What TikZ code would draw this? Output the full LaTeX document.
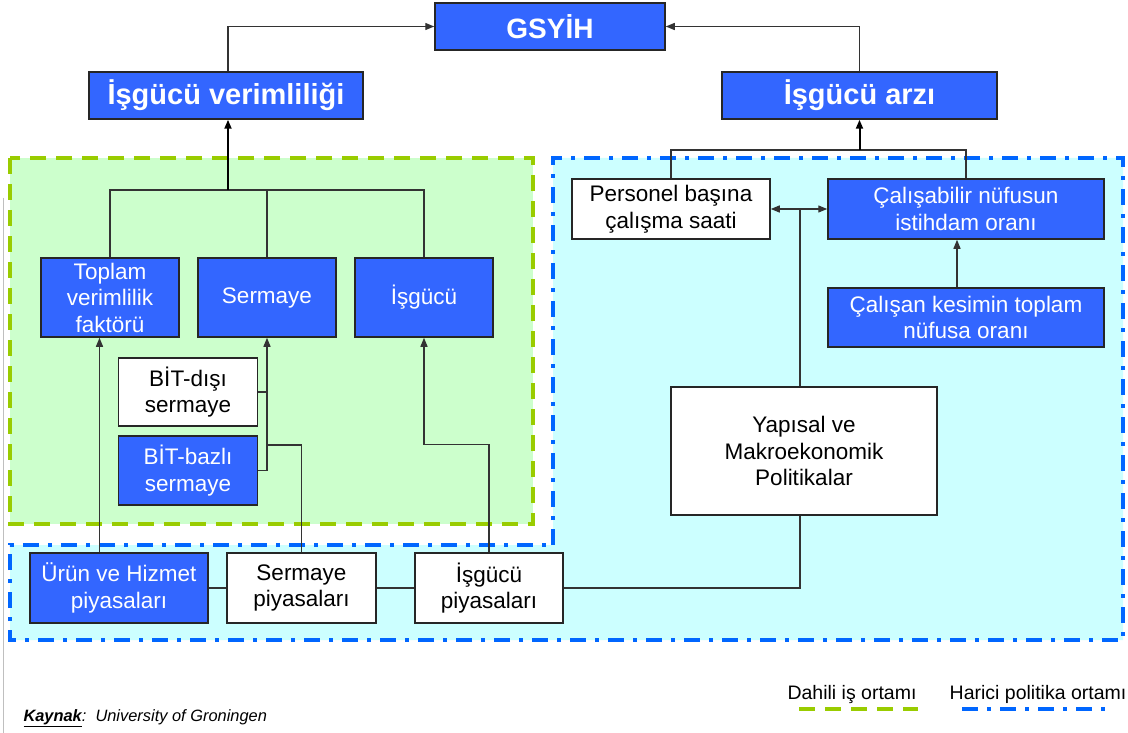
\documentclass[tikz,border=0pt]{standalone}
\usepackage{fontspec}
\setmainfont{Liberation Sans}
\usetikzlibrary{arrows.meta}
\definecolor{boxblue}{HTML}{3366FF}
\definecolor{intfill}{HTML}{CCFFCC}
\definecolor{intline}{HTML}{99CC00}
\definecolor{extfill}{HTML}{CCFFFF}
\definecolor{extline}{HTML}{0066FF}
\begin{document}
\begin{tikzpicture}[x=1pt,y=-1pt,
    bbox/.style={draw=black!85, line width=1.5pt, fill=boxblue, text=white, align=center, inner sep=0pt, font=\fontsize{22.5}{26.5}\selectfont},
    wbox/.style={bbox, fill=white, text=black},
    hbox/.style={bbox, font=\fontsize{29}{33}\selectfont\bfseries},
    conn/.style={draw=black!80, line width=1.3pt},
    arr/.style={conn, -{Triangle[length=9pt,width=7pt]}},
    mainarr/.style={arr, draw=black, line width=2pt},
    intdash/.style={draw=intline, line width=4pt, dash pattern=on 16pt off 10pt},
    extdash/.style={draw=extline, line width=4pt, dash pattern=on 16pt off 9pt on 4pt off 9pt}]
        \useasboundingbox (0,0) rectangle (1128,733);
        \fill[white] (0,0) rectangle (1128,733);
        \draw[black!25, line width=1pt] (3,198) -- (3,733);
        % internal and external areas
        \fill[intfill] (10,158) rectangle (533,524);
        \fill[extfill] (553,158) -- (1123,158) -- (1123,640) -- (10,640) -- (10,545) -- (553,545) -- cycle;
        \draw[intdash] (10,158) rectangle (533,524);
        \draw[extdash] (553,545) -- (553,158) -- (1123,158) -- (1123,640) -- (10,640) -- (10,545) -- cycle;
        % top level
        \node[hbox, minimum width=230, minimum height=47, font=\fontsize{28}{32}\selectfont\bfseries] (gsyih) at (550,26.5) {GSYİH};
        \node[hbox, minimum width=274, minimum height=47] (isv) at (226,95.5) {İşgücü verimliliği};
        \node[hbox, minimum width=275, minimum height=47] (arz) at (859.5,95.5) {İşgücü arzı};
        % productivity side
        \node[bbox, minimum width=138, minimum height=79] (tvf) at (110,297.5) {Toplam\\verimlilik\\faktörü};
        \node[bbox, minimum width=138, minimum height=79] (ser) at (267,297.5) {Sermaye};
        \node[bbox, minimum width=138, minimum height=79] (isg) at (424,297.5) {İşgücü};
        \node[wbox, minimum width=139, minimum height=68] (bitd) at (188,392) {BİT-dışı\\sermaye};
        \node[bbox, minimum width=139, minimum height=69] (bitb) at (188,470.5) {BİT-bazlı\\sermaye};
        % markets
        \node[bbox, minimum width=178, minimum height=70] (uh) at (119,588) {Ürün ve Hizmet\\piyasaları};
        \node[wbox, minimum width=149, minimum height=70] (sp) at (301.5,588) {Sermaye\\piyasaları};
        \node[wbox, minimum width=148, minimum height=70] (ip) at (489,588) {İşgücü\\piyasaları};
        % labour supply side
        \node[wbox, minimum width=198, minimum height=60] (pb) at (671,209) {Personel başına\\çalışma saati};
        \node[bbox, minimum width=276, minimum height=60] (cn) at (966,209) {Çalışabilir nüfusun\\istihdam oranı};
        \node[bbox, minimum width=276, minimum height=59] (ck) at (966,317.5) {Çalışan kesimin toplam\\nüfusa oranı};
        \node[wbox, minimum width=266, minimum height=128] (yp) at (804,451) {Yapısal ve\\Makroekonomik\\Politikalar};
        % junctions
        \coordinate (jv) at (228,190);
        \coordinate (ja) at (859.5,150);
        \coordinate (js) at (267,445);
        \coordinate (jd) at (800,209);
        % to GSYIH
        \draw[arr] ([xshift=2pt]isv.north) |- (gsyih.west);
        \draw[arr] (arz.north) |- (gsyih.east);
        % into productivity
        \draw[conn] (tvf.north) |- (jv) -| (isg.north);
        \draw[conn] (ser.north) -- (ser.north |- jv);
        \draw[mainarr] (jv) -- ([xshift=2pt]isv.south);
        % into capital
        \draw[conn] (bitd.east) -- (bitd.east -| ser.south);
        \draw[arr] (bitb.east) -| (ser.south);
        \draw[conn] (sp.north) |- (js);
        % markets upwards
        \draw[arr] ([xshift=-19.5pt]uh.north) -- ([xshift=-10.5pt]tvf.south);
        \draw[arr] (ip.north) -- ++(0,-108) -| (isg.south);
        \draw[conn] (uh.east) -- (sp.west);
        \draw[conn] (sp.east) -- (ip.west);
        \draw[conn] (ip.east) -| ([xshift=-4pt]yp.south);
        % into labour supply
        \draw[conn] (pb.north) |- (ja) -| (cn.north);
        \draw[mainarr] (ja) -- (arz.south);
        \draw[conn] ([xshift=-4pt]yp.north) -- (jd);
        \draw[arr] (jd) -- (pb.east);
        \draw[arr] (jd) -- (cn.west);
        \draw[arr] ([xshift=-9pt]ck.north) -- ([xshift=-9pt]cn.south);
        % legend
        \node[font=\fontsize{19.5}{22}\selectfont] (lint) at (852,694) {Dahili iş ortamı};
        \node[font=\fontsize{19.5}{22}\selectfont] (lext) at (1038,694) {Harici politika ortamı};
        \draw[intdash] (799,709) -- (918,709);
        \draw[extdash] (962,709) -- (1112,709);
        \node[anchor=west, font=\fontsize{16.4}{19}\selectfont\itshape] (src) at (20,718) {\textbf{\underline{Kaynak}}:\ \ University of Groningen};
    \end{tikzpicture}
\end{document}
